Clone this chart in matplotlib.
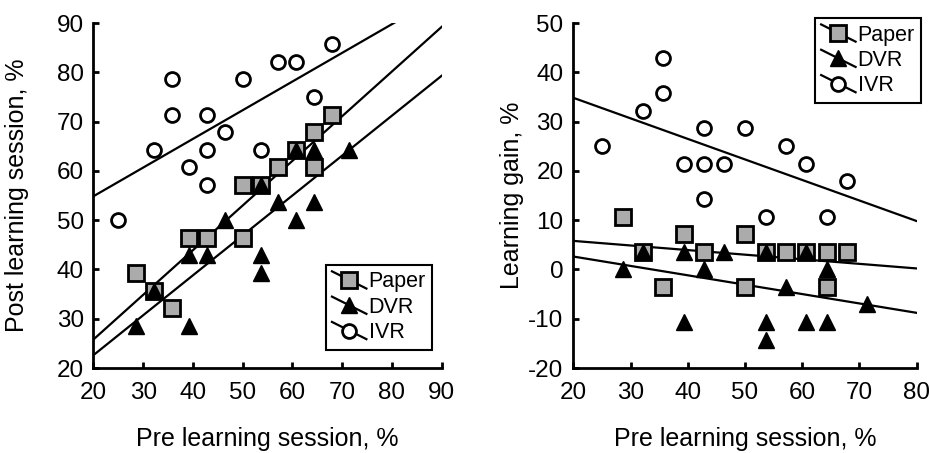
import matplotlib
matplotlib.use("Agg")
import matplotlib.pyplot as plt
import numpy as np
from matplotlib.lines import Line2D
from matplotlib.legend_handler import HandlerBase

plt.rcParams['font.family'] = ['Liberation Sans', 'DejaVu Sans']
plt.rcParams['axes.unicode_minus'] = False

# Paper group
pre_paper = [28.6, 32.1, 35.7, 39.3, 42.9, 50.0, 50.0, 53.6, 57.1, 60.7, 64.3, 64.3, 67.9]
post_paper = [39.3, 35.7, 32.1, 46.4, 46.4, 57.1, 46.4, 57.1, 60.7, 64.3, 67.9, 60.7, 71.4]
gain_paper = [10.7, 3.6, -3.6, 7.1, 3.6, 7.1, -3.6, 3.6, 3.6, 3.6, 3.6, -3.6, 3.6]

# DVR group
pre_dvr = [28.6, 32.1, 39.3, 39.3, 42.9, 46.4, 53.6, 53.6, 53.6, 57.1, 60.7, 60.7, 64.3, 64.3, 71.4]
post_dvr = [28.6, 35.7, 28.6, 42.9, 42.9, 50.0, 39.3, 42.9, 57.1, 53.6, 50.0, 64.3, 53.6, 64.3, 64.3]
gain_dvr = [0.0, 3.6, -10.7, 3.6, 0.0, 3.6, -14.3, -10.7, 3.6, -3.6, -10.7, 3.6, -10.7, 0.0, -7.1]

# IVR group
pre_ivr = [25.0, 32.1, 35.7, 35.7, 39.3, 42.9, 42.9, 42.9, 46.4, 50.0, 53.6, 57.1, 60.7, 64.3, 67.9]
post_ivr = [50.0, 64.3, 78.6, 71.4, 60.7, 71.4, 64.3, 57.1, 67.9, 78.6, 64.3, 82.1, 82.1, 75.0, 85.7]
gain_ivr = [25.0, 32.1, 42.9, 35.7, 21.4, 28.6, 21.4, 14.3, 21.4, 28.6, 10.7, 25.0, 21.4, 10.7, 17.9]

labels = ['Paper', 'DVR', 'IVR']
left_ticks_x = [20, 30, 40, 50, 60, 70, 80, 90]
left_ticks_y = [20, 30, 40, 50, 60, 70, 80, 90]
right_ticks_x = [20, 30, 40, 50, 60, 70, 80]
right_ticks_y = [-20, -10, 0, 10, 20, 30, 40, 50]

styles = [
    dict(marker='s', markersize=12, markerfacecolor='#ababab', markeredgecolor='black', markeredgewidth=2),
    dict(marker='^', markersize=11, markerfacecolor='black', markeredgecolor='black', markeredgewidth=1),
    dict(marker='o', markersize=10, markerfacecolor='white', markeredgecolor='black', markeredgewidth=2),
]


class DiagonalHandler(HandlerBase):
    # legend key: diagonal line with the marker in the middle
    def create_artists(self, legend, orig_handle, xdescent, ydescent, width, height, fontsize, trans):
        cx = width / 2 - xdescent
        cy = height / 2 - ydescent
        d = width * 0.25
        line = Line2D([-xdescent, width - xdescent], [cy + d, cy - d], color='black', lw=1.6)
        mark = Line2D([cx], [cy], linestyle='none',
                      marker=orig_handle.get_marker(),
                      markersize=orig_handle.get_markersize(),
                      markerfacecolor=orig_handle.get_markerfacecolor(),
                      markeredgecolor='black',
                      markeredgewidth=orig_handle.get_markeredgewidth())
        line.set_transform(trans)
        mark.set_transform(trans)
        return [line, mark]


def panel(ax, xs, ys, xlim, ylim, xticks, yticks, ylabel):
    for x, y in zip(xs, ys):
        k, b = np.polyfit(x, y, 1)
        lx = np.array(xlim, dtype=float)
        ax.plot(lx, k * lx + b, color='black', lw=1.6, zorder=2)
    for x, y, st in zip(xs, ys, styles):
        ax.plot(x, y, linestyle='none', zorder=3, clip_on=False, **st)
    ax.set_xlim(xlim)
    ax.set_ylim(ylim)
    ax.set_xticks(xticks)
    ax.set_yticks(yticks)
    for s in ['top', 'right']:
        ax.spines[s].set_visible(False)
    for s in ['left', 'bottom']:
        ax.spines[s].set_linewidth(2)
    ax.tick_params(direction='in', length=4, width=2, labelsize=17.5)
    ax.tick_params(axis='x', pad=10)
    ax.tick_params(axis='y', pad=7)
    ax.set_xlabel('Pre learning session, %', fontsize=18)
    ax.set_ylabel(ylabel, fontsize=18)
    ax.xaxis.set_label_coords(0.5, -0.17)


fig = plt.figure(figsize=(9.3, 4.53), dpi=100)
ax1 = fig.add_axes([0.1005, 0.1876, 0.3744, 0.7616])
ax2 = fig.add_axes([0.6165, 0.1876, 0.3692, 0.7616])

panel(ax1, [pre_paper, pre_dvr, pre_ivr], [post_paper, post_dvr, post_ivr],
      (20, 90), (20, 90), left_ticks_x, left_ticks_y, 'Post learning session, %')
ax1.yaxis.set_label_coords(-0.185, 0.5)

panel(ax2, [pre_paper, pre_dvr, pre_ivr], [gain_paper, gain_dvr, gain_ivr],
      (20, 80), (-20, 50), right_ticks_x, right_ticks_y, 'Learning gain, %')
ax2.yaxis.set_label_coords(-0.145, 0.5)

handles = [Line2D([], [], linestyle='none', **st) for st in styles]
for ax, anchor in [(ax1, (0.350, 0.415)), (ax2, (0.876, 0.96))]:
    leg = ax.legend(handles, labels, handler_map={Line2D: DiagonalHandler()},
                    loc='upper left', bbox_to_anchor=anchor, bbox_transform=fig.transFigure,
                    fontsize=15.5, fancybox=False, framealpha=1, edgecolor='black',
                    handlelength=1.6, handletextpad=0.1, labelspacing=0.2,
                    borderpad=0.3, borderaxespad=0)
    leg.get_frame().set_linewidth(1.5)
    leg.set_zorder(5)

fig.savefig('out.png', dpi=100)
